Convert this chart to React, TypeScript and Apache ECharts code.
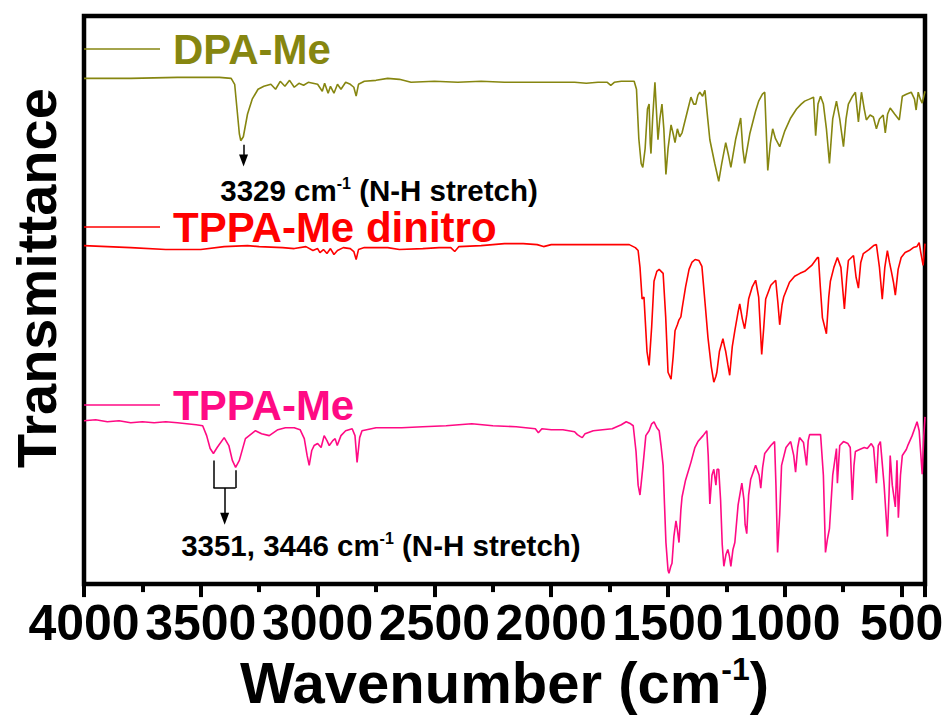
import React, { useEffect, useRef } from "react";
import * as echarts from "echarts";

const FONT = "'Liberation Sans', Arial, sans-serif";

const seriesNames = ["DPA-Me", "TPPA-Me dinitro", "TPPA-Me"];
const seriesColors = ["#868610", "#FF0000", "#FF0A84"];

// [wavenumber (cm-1), transmittance (arbitrary, offset) ]
const dpaMe: number[][] = [
  [4000, 511], [3800, 511], [3600, 512], [3420, 512], [3370, 511], [3355, 505], [3345, 480], [3335, 455],
  [3329, 448], [3318, 452], [3300, 475], [3280, 490], [3255, 500], [3230, 503], [3200, 505], [3180, 500],
  [3160, 508], [3140, 503], [3120, 509], [3100, 502], [3080, 506], [3060, 504], [3040, 507], [3000, 505],
  [2980, 498], [2970, 506], [2955, 496], [2945, 503], [2930, 496], [2915, 505], [2900, 500], [2880, 507],
  [2860, 505], [2845, 502], [2835, 493], [2825, 505], [2800, 508], [2750, 509], [2700, 511], [2650, 510],
  [2600, 507], [2500, 508], [2400, 507], [2300, 508], [2200, 507], [2100, 507], [2000, 507], [1900, 507],
  [1850, 506], [1800, 507], [1760, 507], [1745, 504], [1730, 507], [1700, 508], [1645, 508], [1635, 500],
  [1625, 450], [1615, 425], [1608, 421], [1598, 440], [1588, 480], [1581, 485], [1576, 445], [1573, 435],
  [1566, 470], [1556, 507], [1550, 480], [1543, 449], [1535, 470], [1526, 485], [1518, 460], [1509, 414],
  [1500, 440], [1487, 464], [1478, 455], [1470, 446], [1460, 460], [1450, 452], [1440, 456], [1420, 475],
  [1402, 492], [1390, 485], [1381, 485], [1372, 494], [1364, 497], [1352, 493], [1342, 499], [1330, 470],
  [1321, 449], [1300, 425], [1283, 407], [1270, 425], [1253, 446], [1240, 432], [1231, 421], [1210, 450],
  [1189, 471], [1180, 440], [1172, 425], [1150, 455], [1125, 478], [1112, 488], [1096, 495], [1086, 497],
  [1080, 460], [1073, 418], [1062, 445], [1052, 460], [1040, 450], [1022, 442], [1000, 458], [975, 471],
  [950, 480], [930, 485], [915, 488], [895, 490], [877, 492], [868, 453], [858, 485], [847, 493],
  [835, 485], [822, 460], [809, 425], [795, 470], [779, 488], [765, 470], [749, 442], [738, 470],
  [728, 485], [710, 493], [698, 497], [685, 467], [672, 497], [660, 480], [651, 469], [635, 474],
  [621, 472], [608, 460], [595, 470], [579, 474], [570, 456], [560, 475], [549, 481], [530, 475],
  [510, 469], [497, 493], [480, 495], [459, 497], [445, 490], [438, 479], [429, 497], [420, 490],
  [412, 486], [400, 498],
];

const tppaMeDinitro: number[][] = [
  [4000, 342], [3900, 341], [3800, 340], [3650, 338], [3500, 338], [3400, 341], [3300, 342], [3250, 341],
  [3150, 340], [3100, 339], [3050, 341], [3020, 337], [3000, 339], [2990, 335], [2975, 338], [2960, 334],
  [2945, 339], [2930, 333], [2915, 337], [2890, 340], [2860, 339], [2845, 336], [2835, 328], [2825, 338],
  [2800, 340], [2750, 340], [2700, 340], [2650, 338], [2550, 339], [2480, 340], [2430, 340], [2413, 336],
  [2395, 341], [2300, 342], [2200, 344], [2120, 344], [2060, 343], [2033, 341], [2000, 343], [1900, 343],
  [1800, 343], [1700, 343], [1666, 343], [1640, 340], [1628, 337], [1620, 320], [1611, 288], [1603, 290],
  [1590, 235], [1581, 221], [1570, 260], [1560, 306], [1548, 316], [1538, 318], [1521, 314], [1510, 270],
  [1500, 214], [1487, 207], [1478, 230], [1470, 256], [1460, 262], [1453, 267], [1445, 270], [1440, 278],
  [1425, 300], [1410, 318], [1398, 325], [1384, 328], [1368, 327], [1355, 321], [1340, 280], [1329, 249],
  [1315, 220], [1304, 204], [1295, 210], [1291, 214], [1280, 235], [1265, 248], [1258, 240], [1253, 235],
  [1244, 222], [1236, 211], [1225, 240], [1214, 256], [1200, 275], [1193, 283], [1182, 268], [1172, 258],
  [1163, 272], [1155, 288], [1140, 300], [1125, 307], [1112, 290], [1099, 232], [1090, 260], [1082, 288],
  [1060, 302], [1039, 307], [1030, 285], [1022, 262], [1012, 282], [1005, 290], [980, 305], [958, 311],
  [935, 314], [915, 316], [885, 322], [860, 330], [856, 330], [848, 300], [839, 269], [822, 253],
  [812, 290], [805, 306], [790, 320], [775, 330], [760, 320], [745, 278], [735, 310], [728, 327],
  [715, 330], [706, 332], [695, 310], [685, 299], [675, 325], [664, 334], [640, 338], [620, 342],
  [608, 343], [595, 320], [583, 288], [572, 320], [561, 337], [552, 325], [544, 316], [535, 305],
  [527, 292], [515, 318], [502, 330], [485, 335], [467, 337], [450, 340], [435, 341], [425, 345],
  [418, 335], [408, 322], [400, 344],
];

const tppaMe: number[][] = [
  [4000, 165], [3950, 166], [3900, 164], [3850, 165], [3800, 163], [3750, 164], [3700, 163], [3650, 164],
  [3600, 163], [3520, 161], [3492, 160], [3475, 150], [3460, 137], [3446, 132], [3430, 138], [3400, 148],
  [3380, 140], [3365, 125], [3351, 118], [3335, 125], [3309, 147], [3266, 155], [3240, 152], [3207, 150],
  [3170, 156], [3138, 158], [3100, 158], [3075, 156], [3057, 147], [3045, 130], [3036, 120], [3025, 135],
  [3015, 140], [3000, 142], [2985, 138], [2972, 150], [2960, 145], [2950, 140], [2935, 145], [2925, 147],
  [2916, 140], [2900, 150], [2880, 155], [2852, 157], [2840, 150], [2831, 123], [2820, 148], [2810, 155],
  [2750, 158], [2700, 158], [2640, 158], [2550, 159], [2450, 160], [2340, 162], [2250, 160], [2150, 159],
  [2068, 157], [2055, 153], [2040, 157], [2000, 156], [1950, 156], [1900, 154], [1888, 151], [1875, 149],
  [1867, 148], [1855, 152], [1820, 155], [1780, 156], [1739, 157], [1700, 161], [1679, 164], [1660, 162],
  [1649, 160], [1637, 134], [1628, 100], [1620, 90], [1607, 120], [1595, 150], [1581, 155], [1570, 162],
  [1560, 164], [1548, 158], [1538, 155], [1530, 140], [1521, 120], [1515, 80], [1509, 42], [1500, 14],
  [1496, 11], [1488, 18], [1483, 21], [1475, 48], [1466, 64], [1460, 55], [1453, 42], [1445, 75],
  [1440, 88], [1425, 105], [1402, 123], [1385, 138], [1372, 144], [1350, 150], [1334, 155], [1328, 130],
  [1321, 81], [1312, 110], [1304, 116], [1295, 100], [1290, 116], [1283, 116], [1275, 85], [1268, 40],
  [1261, 18], [1252, 30], [1244, 35], [1237, 28], [1231, 18], [1222, 35], [1214, 42], [1200, 80],
  [1184, 102], [1175, 85], [1170, 60], [1163, 51], [1155, 90], [1146, 106], [1125, 120], [1110, 110],
  [1103, 97], [1095, 118], [1086, 132], [1060, 140], [1044, 144], [1038, 100], [1031, 32], [1022, 70],
  [1014, 120], [995, 138], [975, 144], [962, 130], [954, 113], [945, 138], [937, 148], [920, 143],
  [907, 120], [900, 145], [894, 151], [870, 151], [847, 151], [835, 110], [826, 32], [818, 45],
  [809, 56], [795, 110], [779, 137], [775, 102], [765, 140], [749, 144], [730, 142], [720, 138],
  [711, 85], [704, 120], [698, 134], [680, 136], [660, 138], [647, 137], [630, 142], [620, 138],
  [608, 102], [600, 140], [591, 144], [575, 100], [561, 48], [554, 90], [549, 130], [540, 100],
  [527, 78], [520, 125], [514, 67], [505, 110], [497, 130], [480, 136], [472, 141], [455, 150],
  [440, 160], [434, 164], [425, 155], [412, 111], [405, 150], [400, 169],
];

const seriesData = [dpaMe, tppaMeDinitro, tppaMe];

const xTitle = "Wavenumber (cm{sup|-1})";
const yTitle = "Transmittance";
const note1 = "3329 cm{sup|-1} (N-H stretch)";
const note2 = "3351, 3446 cm{sup|-1} (N-H stretch)";

export default function App() {
  const ref = useRef<HTMLDivElement>(null);

  useEffect(() => {
    if (!ref.current) return;
    const chart = echarts.init(ref.current, undefined, { renderer: "svg" });

    const noteRich = {
      sup: { fontSize: 16, fontWeight: "bold", fontFamily: FONT, color: "#000", padding: [0, 0, 14, 0] },
    };
    const noteLabel = (text: string) => ({
      show: true,
      position: "inside",
      formatter: text,
      fontSize: 29.5,
      fontWeight: "bold",
      fontFamily: FONT,
      color: "#000",
      rich: noteRich,
    });

    const legendTops = [28, 206, 384];

    chart.setOption({
      animation: false,
      grid: { left: 81, right: 26, top: 16, bottom: 126, show: true, borderColor: "#000", borderWidth: 4.5, containLabel: false },
      legend: seriesNames.map((name, i) => ({
        data: [name],
        left: 84,
        top: legendTops[i],
        padding: 0,
        icon: "rect",
        itemWidth: 76,
        itemHeight: 1.5,
        selectedMode: false,
        textStyle: {
          color: seriesColors[i],
          fontSize: 42,
          lineHeight: 40,
          fontWeight: "bold",
          fontFamily: FONT,
          padding: [0, 0, 0, 8],
        },
      })),
      xAxis: {
        type: "value",
        min: 400,
        max: 4000,
        inverse: true,
        splitNumber: 7,
        name: xTitle,
        nameLocation: "middle",
        nameGap: 64,
        nameTextStyle: {
          fontSize: 58,
          fontWeight: "bold",
          fontFamily: FONT,
          color: "#000",
          rich: {
            sup: { fontSize: 32, fontWeight: "bold", fontFamily: FONT, color: "#000", padding: [0, 0, 26, 0] },
          },
        },
        axisLine: { show: false },
        axisTick: { show: true, inside: false, length: 13, lineStyle: { color: "#000", width: 4 } },
        minorTick: { show: true, splitNumber: 2, length: 8, lineStyle: { color: "#000", width: 4 } },
        splitLine: { show: false },
        axisLabel: {
          showMinLabel: false,
          margin: 14,
          fontSize: 50,
          fontWeight: "bold",
          fontFamily: FONT,
          color: "#000",
          formatter: (v: number) => String(v),
        },
      },
      yAxis: {
        type: "value",
        min: 0,
        max: 574,
        name: yTitle,
        nameLocation: "middle",
        nameGap: 20,
        nameTextStyle: { fontSize: 56, fontWeight: "bold", fontFamily: FONT, color: "#000", padding: [0, 0, 0, 44] },
        axisLine: { show: false },
        axisTick: { show: false },
        axisLabel: { show: false },
        splitLine: { show: false },
      },
      series: seriesNames.map((name, i) => {
        const s: any = {
          name,
          type: "line",
          data: seriesData[i],
          showSymbol: false,
          symbol: "none",
          color: seriesColors[i],
          lineStyle: { color: seriesColors[i], width: 1.6 },
          silent: true,
        };
        if (i === 0) {
          s.markLine = {
            silent: true,
            symbol: ["none", "triangle"],
            symbolSize: [9, 12],
            label: { show: false },
            lineStyle: { color: "#000", width: 1.5, type: "solid" },
            data: [[{ coord: [3317, 444] }, { coord: [3317, 428] }]],
          };
          s.markPoint = {
            silent: true,
            symbol: "circle",
            symbolSize: 0,
            data: [{ coord: [2737, 398], label: noteLabel(note1) }],
          };
        }
        if (i === 2) {
          s.markLine = {
            silent: true,
            symbol: ["none", "none"],
            label: { show: false },
            lineStyle: { color: "#000", width: 1.5, type: "solid" },
            data: [
              [{ coord: [3446, 125] }, { coord: [3446, 97] }],
              [{ coord: [3351, 115] }, { coord: [3351, 97] }],
              [{ coord: [3446, 97] }, { coord: [3351, 97] }],
              [
                { coord: [3398, 97], symbol: "none" },
                { coord: [3398, 66], symbol: "triangle", symbolSize: [9, 12] },
              ],
            ],
          };
          s.markPoint = {
            silent: true,
            symbol: "circle",
            symbolSize: 0,
            data: [{ coord: [2729, 39], label: noteLabel(note2) }],
          };
        }
        return s;
      }),
    });

    return () => chart.dispose();
  }, []);

  return <div ref={ref} style={{ width: 951, height: 716, position: "absolute", left: 0, top: 0 }} />;
}
